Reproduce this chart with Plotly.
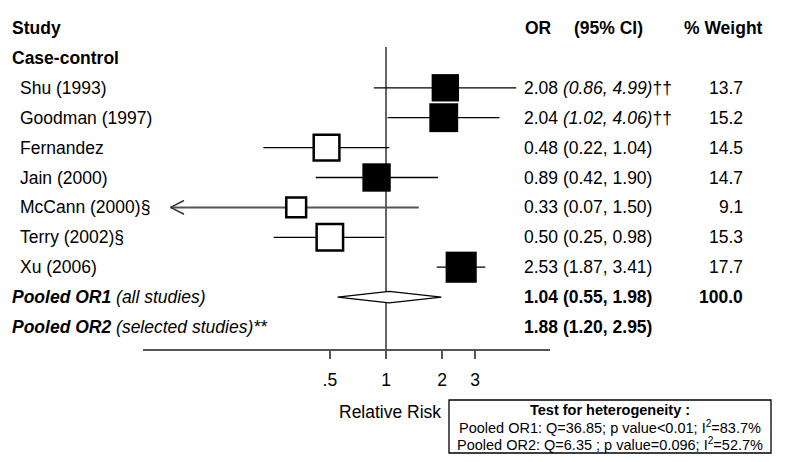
import math
import plotly.graph_objects as go

# ---------------- data ----------------
studies = ["Shu (1993)", "Goodman (1997)", "Fernandez", "Jain (2000)",
           "McCann (2000)", "Terry (2002)", "Xu (2006)"]
study_notes = ["", "", "", "", "§", "§", ""]
or_vals = [2.08, 2.04, 0.48, 0.89, 0.33, 0.50, 2.53]
ci_low = [0.86, 1.02, 0.22, 0.42, 0.07, 0.25, 1.87]
ci_high = [4.99, 4.06, 1.04, 1.90, 1.50, 0.98, 3.41]
weights = [13.7, 15.2, 14.5, 14.7, 9.1, 15.3, 17.7]
selected = [True, True, False, True, False, False, True]
ci_italic = [True, True, False, False, False, False, False]
or_notes = ["††", "††", "", "", "", "", ""]
truncated = [False, False, False, False, True, False, False]

pooled_names = ["Pooled OR1", "Pooled OR2"]
pooled_desc = ["(all studies)", "(selected studies)**"]
pooled_or = [1.04, 1.88]
pooled_low = [0.55, 1.20]
pooled_high = [1.98, 2.95]
pooled_weight = ["100.0", ""]
pooled_diamond = [True, False]

tick_vals = [0.5, 1, 2, 3]
tick_text = [".5", "1", "2", "3"]

het_title = "Test for heterogeneity :"
het_lines = ["Pooled OR1: Q=36.85; p value<0.01; I<sup>2</sup>=83.7%",
             "Pooled OR2: Q=6.35 ; p value=0.096; I<sup>2</sup>=52.7%"]

# ---------------- layout helpers ----------------
W, H = 800, 462
FONT = "Arial, 'Liberation Sans', sans-serif"
SERIF = "'Times New Roman', 'Liberation Serif', serif"
FS = 17.5
ROW0_PX, ROW_STEP = 28.0, 29.9
AXIS_PX = 349.0


def px(x):
    return x / W


def py(y):
    return 1 - y / H


def row_of_px(y):
    return (y - ROW0_PX) / ROW_STEP


study_rows = [2 + i for i in range(len(studies))]
pooled_rows = [9, 10]

fig = go.Figure()

# CI lines
lx, ly, gx, gy = [], [], [], []
for r, lo, hi, tr in zip(study_rows, ci_low, ci_high, truncated):
    if tr:
        gx += [lo, hi, None]
        gy += [r, r, None]
    else:
        lx += [lo, hi, None]
        ly += [r, r, None]
fig.add_trace(go.Scatter(x=lx, y=ly, mode="lines", line=dict(color="black", width=1.3),
                         hoverinfo="skip", showlegend=False))
fig.add_trace(go.Scatter(x=gx, y=gy, mode="lines", line=dict(color="#555555", width=2),
                         hoverinfo="skip", showlegend=False))

# arrow heads for truncated CIs
ax_, ay_ = [], []
for r, lo, tr in zip(study_rows, ci_low, truncated):
    if tr:
        ax_ += [lo * 1.18, lo, lo * 1.18, None]
        ay_ += [r - 0.23, r, r + 0.23, None]
fig.add_trace(go.Scatter(x=ax_, y=ay_, mode="lines", line=dict(color="#333333", width=1.5),
                         hoverinfo="skip", showlegend=False))

# squares
fx = [o for o, s in zip(or_vals, selected) if s]
fy = [r for r, s in zip(study_rows, selected) if s]
fs = [7.4 * math.sqrt(w) for w, s in zip(weights, selected) if s]
hx = [o for o, s in zip(or_vals, selected) if not s]
hy = [r for r, s in zip(study_rows, selected) if not s]
hs = [7.4 * math.sqrt(w) - 2.5 for w, s in zip(weights, selected) if not s]
fig.add_trace(go.Scatter(x=fx, y=fy, mode="markers",
                         marker=dict(symbol="square", size=fs, color="black", opacity=1,
                                     line=dict(width=0)),
                         hoverinfo="skip", showlegend=False))
fig.add_trace(go.Scatter(x=hx, y=hy, mode="markers",
                         marker=dict(symbol="square", size=hs, color="white", opacity=1,
                                     line=dict(width=2.5, color="black")),
                         hoverinfo="skip", showlegend=False))

# pooled diamond
for r, o, lo, hi, d in zip(pooled_rows, pooled_or, pooled_low, pooled_high, pooled_diamond):
    if d:
        h = 0.19
        fig.add_trace(go.Scatter(x=[lo, o, hi, o, lo], y=[r, r - h, r, r + h, r],
                                 mode="lines", fill="toself", fillcolor="white",
                                 line=dict(color="black", width=1.2),
                                 hoverinfo="skip", showlegend=False))

# reference line at 1
fig.add_shape(type="line", xref="x", yref="y", x0=1, x1=1,
              y0=row_of_px(47), y1=row_of_px(AXIS_PX),
              line=dict(color="#666666", width=2), layer="below")

ann = []


def add_text(text, x_px, row, anchor="left", size=FS, yref="y", y=None):
    ann.append(dict(text=text, x=px(x_px), xref="paper",
                    y=row if yref == "y" else y, yref=yref,
                    xanchor=anchor, yanchor="middle", showarrow=False,
                    font=dict(family=FONT, size=size, color="black")))


# headers
add_text("<b>Study</b>", 10, 0)
add_text("<b>OR</b>", 523, 0)
add_text("<b>(95% CI)</b>", 572, 0)
add_text("<b>% Weight</b>", 682, 0)
add_text("<b>Case-control</b>", 10, 1)

for r, name, note, o, lo, hi, it, on, w in zip(study_rows, studies, study_notes, or_vals,
                                               ci_low, ci_high, ci_italic, or_notes, weights):
    lab = name
    if note:
        lab += "<span style='font-family:%s'>%s</span>" % (SERIF, note)
    add_text(lab, 18, r)
    ci = "(%.2f, %.2f)" % (lo, hi)
    if it:
        ci = "<i>%s</i>" % ci
    add_text("%.2f %s%s" % (o, ci, on), 522, r)
    add_text("%.1f" % w, 745, r, anchor="right")

for r, nm, ds, o, lo, hi, w in zip(pooled_rows, pooled_names, pooled_desc, pooled_or,
                                   pooled_low, pooled_high, pooled_weight):
    add_text("<b><i>%s</i></b> <i>%s</i>" % (nm, ds), 10, r)
    add_text("<b>%.2f (%.2f, %.2f)</b>" % (o, lo, hi), 522, r)
    if w:
        add_text("<b>%s</b>" % w, 745, r, anchor="right")

# axis title
add_text("Relative Risk", 390, None, anchor="center", yref="paper", y=py(412))

# heterogeneity box
fig.add_shape(type="rect", xref="paper", yref="paper",
              x0=px(449), x1=px(771), y0=py(453), y1=py(400),
              line=dict(color="black", width=1.3), fillcolor="white")
add_text("<b>%s</b>" % het_title, 610, None, anchor="center", size=14.5, yref="paper", y=py(410))
add_text(het_lines[0], 610, None, anchor="center", size=14.5, yref="paper", y=py(427))
add_text(het_lines[1], 610, None, anchor="center", size=14.5, yref="paper", y=py(444))

# axis scale: 1 -> 386 px, 81 px per natural-log unit
X1, K = 386.0, 81.0
lo10 = ((143 - X1) / K) / math.log(10)
hi10 = ((550 - X1) / K) / math.log(10)

fig.update_layout(
    width=W, height=H,
    margin=dict(l=0, r=0, t=0, b=0),
    paper_bgcolor="white", plot_bgcolor="white",
    annotations=ann,
    showlegend=False,
    xaxis=dict(type="log", domain=[px(143), px(550)], range=[lo10, hi10],
               showgrid=False, zeroline=False, showline=True, linecolor="#555555",
               linewidth=2, ticks="outside", ticklen=8, tickwidth=1.5, tickcolor="#555555",
               tickvals=tick_vals, ticktext=tick_text, ticklabelstandoff=6,
               tickfont=dict(family=FONT, size=FS, color="black"), fixedrange=True),
    yaxis=dict(domain=[1 - AXIS_PX / H, 1], range=[row_of_px(AXIS_PX), row_of_px(0)],
               visible=False, fixedrange=True),
    font=dict(family=FONT, color="black"),
)

fig.write_html("out.html", config={"displayModeBar": False, "staticPlot": True},
               post_script="document.body.style.margin='0px';")
